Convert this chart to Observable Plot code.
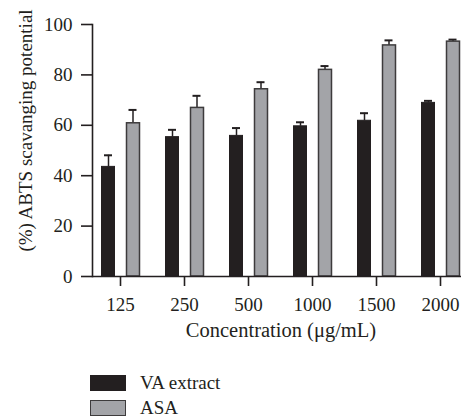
<!DOCTYPE html>
<html>
<head>
<meta charset="utf-8">
<script src="https://cdn.jsdelivr.net/npm/d3@7"></script>
<script src="https://cdn.jsdelivr.net/npm/@observablehq/plot@0.6"></script>
<style>
  body { margin: 0; background: #fff; }
  #wrap { position: relative; width: 461px; height: 417px; overflow: hidden; font-family: "Liberation Serif", serif; color: #231f20; }
  #wrap svg { position: absolute; left: 0; top: 0; }
  .leg { position: absolute; left: 90px; font-size: 19px; line-height: 19px; white-space: nowrap; }
  .sw { position: absolute; left: 0; width: 36px; height: 16px; box-sizing: border-box; }
  .lt { position: absolute; left: 50px; top: -2px; }
</style>
</head>
<body>
<div id="wrap"></div>
<script>
const concentrations = ["125", "250", "500", "1000", "1500", "2000"];
const seriesNames = ["VA extract", "ASA"];
const vaValues = [43.5, 55.3, 55.8, 59.6, 61.8, 68.9];
const vaErrors = [4.6, 2.9, 3.1, 1.6, 3.0, 0.8];
const asaValues = [60.8, 66.9, 74.3, 82.0, 91.7, 93.2];
const asaErrors = [5.3, 4.8, 2.8, 1.5, 2.0, 0.8];
const yTicks = [0, 20, 40, 60, 80, 100];
const xLabel = "Concentration (\u03bcg/mL)";
const yLabel = "(%) ABTS scavanging potential";

const va = concentrations.map((c, i) => ({conc: c, value: vaValues[i], top: vaValues[i] + vaErrors[i]}));
const asa = concentrations.map((c, i) => ({conc: c, value: asaValues[i], top: asaValues[i] + asaErrors[i]}));

const ink = "#231f20";
const grayFill = "#a3a4a8";
const grayStroke = "#3d3b3c";

const chart = Plot.plot({
  width: 461,
  height: 350,
  marginLeft: 92,
  marginRight: 0,
  marginTop: 24,
  marginBottom: 74,
  style: {fontFamily: "Liberation Serif, serif", fontSize: "19px", color: ink, background: "transparent", overflow: "visible"},
  x: {type: "band", domain: concentrations, range: [88, 472.7], padding: 0},
  y: {domain: [0, 100]},
  marks: [
    Plot.ruleX(va, {x: "conc", y1: "value", y2: "top", dx: -12, stroke: ink, strokeWidth: 1.5}),
    Plot.tickY(va, {x: "conc", y: "top", insetLeft: 16, insetRight: 40, stroke: ink, strokeWidth: 2}),
    Plot.ruleX(asa, {x: "conc", y1: "value", y2: "top", dx: 12.5, stroke: ink, strokeWidth: 1.5}),
    Plot.tickY(asa, {x: "conc", y: "top", insetLeft: 40.5, insetRight: 15.5, stroke: ink, strokeWidth: 2}),
    Plot.barY(va, {x: "conc", y: "value", insetLeft: 13.5, insetRight: 37.5, fill: ink, stroke: ink, strokeWidth: 1}),
    Plot.barY(asa, {x: "conc", y: "value", insetLeft: 38.5, insetRight: 12.5, fill: grayFill, stroke: grayStroke, strokeWidth: 1.5}),
    Plot.ruleY([0], {stroke: ink, strokeWidth: 1.6}),
    Plot.frame({anchor: "left", stroke: ink, strokeWidth: 1.6}),
    Plot.axisX({tickSize: 10, tickPadding: 11, label: null, stroke: ink, strokeWidth: 1.6, fontSize: 19}),
    Plot.axisY({ticks: yTicks, tickSize: 11, tickPadding: 9, label: null, stroke: ink, strokeWidth: 1.6, fontSize: 19}),
    Plot.text([xLabel], {text: d => d, frameAnchor: "bottom", textAnchor: "middle", dx: 4, dy: 60, fontSize: 20.5, fill: ink}),
    Plot.text([yLabel], {text: d => d, frameAnchor: "left", textAnchor: "middle", rotate: -90, dx: -67, dy: -20, fontSize: 19, fill: ink})
  ]
});

const wrap = document.getElementById("wrap");
wrap.appendChild(chart);

const legendStyles = [
  {fill: ink, stroke: ink},
  {fill: grayFill, stroke: grayStroke}
];
seriesNames.forEach((name, i) => {
  const item = document.createElement("div");
  item.className = "leg";
  item.style.top = (375 + i * 25) + "px";
  const sw = document.createElement("div");
  sw.className = "sw";
  sw.style.background = legendStyles[i].fill;
  sw.style.border = "1.5px solid " + legendStyles[i].stroke;
  const t = document.createElement("div");
  t.className = "lt";
  t.textContent = name;
  item.appendChild(sw);
  item.appendChild(t);
  wrap.appendChild(item);
});
</script>
</body>
</html>
